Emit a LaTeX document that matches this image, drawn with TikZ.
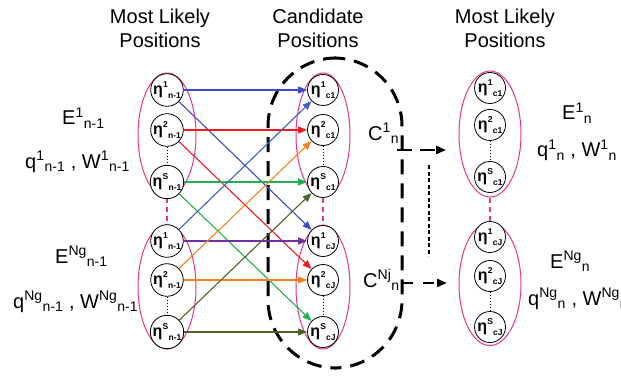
\documentclass[tikz,border=0pt]{standalone}
\usepackage{fontspec}
\setmainfont{Liberation Sans}
\usetikzlibrary{shapes.geometric,arrows.meta}
\definecolor{pinkc}{RGB}{233,52,140}
\definecolor{cblue}{RGB}{63,72,204}
\definecolor{cblueb}{RGB}{64,96,192}
\definecolor{cred}{RGB}{237,28,36}
\definecolor{cgreen}{RGB}{34,177,76}
\definecolor{cpurple}{RGB}{112,48,160}
\definecolor{corange}{RGB}{245,130,32}
\definecolor{colive}{RGB}{79,98,40}
\newcommand\etl[2]{η\kern0.3pt\raisebox{0.42em}{\fontsize{8.5}{8.5}\selectfont#1}\kern0.2pt\raisebox{-0.28em}{\fontsize{8.5}{8.5}\selectfont#2}}
\newcommand\lab[3]{#1\textsuperscript{#2}\textsubscript{#3}}
\begin{document}
\begin{tikzpicture}[x=1pt,y=-1pt,
  etanode/.style={circle, draw, line width=0.8pt, minimum size=31pt, inner sep=0pt, fill=white,
    font=\fontsize{16}{16}\selectfont\bfseries},
  grp/.style={ellipse, draw=pinkc, line width=1pt, inner sep=0pt},
  pinkdash/.style={draw=pinkc, line width=2.5pt, dash pattern=on 5pt off 4pt},
  thindot/.style={draw, line width=0.8pt, dash pattern=on 1.5pt off 1.5pt},
  arr/.style={-{Triangle[length=9pt,width=7pt]}, line width=1.1pt},
  head/.style={font=\fontsize{20}{24}\selectfont, align=center, inner sep=0pt},
  lbl/.style={font=\fontsize{20}{24}\selectfont, anchor=base west, inner sep=0pt},
  bigdash/.style={draw, line width=3pt, dash pattern=on 15pt off 9pt},
  dasharr/.style={-{Triangle[length=10pt,width=8pt]}, line width=2.5pt}
]
\useasboundingbox (0,0) rectangle (621,377);

% headings
\node[head] (h1) at (160,28) {Most Likely\\Positions};
\node[head] (h2) at (318,28) {Candidate\\Positions};
\node[head] (h3) at (505,28) {Most Likely\\Positions};

% big dashed candidate region
\node[bigdash, rounded corners=68pt, minimum width=134pt, minimum height=310pt] (cand) at (335,213) {};

% ellipses
\node[grp, minimum width=58pt, minimum height=124pt] (L1) at (167,135) {};
\node[grp, minimum width=58pt, minimum height=124pt] (L2) at (167,287) {};
\node[grp, minimum width=54pt, minimum height=124pt] (M1) at (323,135) {};
\node[grp, minimum width=54pt, minimum height=124pt] (M2) at (323,287) {};
\node[grp, minimum width=62pt, minimum height=126pt] (R1) at (490,134) {};
\node[grp, minimum width=62pt, minimum height=123pt] (R2) at (490,284) {};

\draw[pinkdash] (L1.south) -- (L2.north);
\draw[pinkdash] (M1.south) -- (M2.north);
\draw[pinkdash] (R1.south) -- (R2.north);

% circles
\node[etanode] (a1) at (167,90) {\etl{1}{n-1}};
\node[etanode] (a2) at (167,130) {\etl{2}{n-1}};
\node[etanode] (aS) at (167,182) {\etl{S}{n-1}};
\node[etanode] (b1) at (167,241) {\etl{1}{n-1}};
\node[etanode] (b2) at (167,280) {\etl{2}{n-1}};
\node[etanode] (bS) at (167,332) {\etl{S}{n-1}};
\node[etanode] (c1) at (323,90) {\etl{1}{c1}};
\node[etanode] (c2) at (323,130) {\etl{2}{c1}};
\node[etanode] (cS) at (323,182) {\etl{S}{c1}};
\node[etanode] (d1) at (323,241) {\etl{1}{cJ}};
\node[etanode] (d2) at (323,280) {\etl{2}{cJ}};
\node[etanode] (dS) at (323,332) {\etl{S}{cJ}};
\node[etanode] (e1) at (490,88) {\etl{1}{c1}};
\node[etanode] (e2) at (490,125) {\etl{2}{c1}};
\node[etanode] (eS) at (490,177) {\etl{S}{c1}};
\node[etanode] (f1) at (490,237) {\etl{1}{cJ}};
\node[etanode] (f2) at (490,276) {\etl{2}{cJ}};
\node[etanode] (fS) at (490,327) {\etl{S}{cJ}};

\draw[thindot] (a2) -- (aS);
\draw[thindot] (b2) -- (bS);
\draw[thindot] (c2) -- (cS);
\draw[thindot] (d2) -- (dS);
\draw[thindot] (e2) -- (eS);
\draw[thindot] (f2) -- (fS);

% connectors
\draw[arr, cblue] (a1) -- (c1);
\draw[arr, cblue] (a1) -- (d1);
\draw[arr, cred] (a2) -- (c2);
\draw[arr, cred] (a2) -- (d2);
\draw[arr, cgreen] (aS) -- (cS);
\draw[arr, cgreen] (aS) -- (dS);
\draw[arr, cpurple] (b1) -- (d1);
\draw[arr, cblueb] (b1) -- (c1);
\draw[arr, corange] (b2) -- (d2);
\draw[arr, corange] (b2) -- (c2);
\draw[arr, colive] (bS) -- (dS);
\draw[arr, colive] (bS) -- (cS);

% right-side dashed arrows
\coordinate (k1s) at (397,150);
\coordinate (k1e) at (446,150);
\coordinate (k2s) at (402,283);
\coordinate (k2e) at (447,283);
\draw[dasharr, dash pattern=on 15pt off 8pt] (k1s) -- (k1e);
\draw[dasharr, dash pattern=on 11pt off 10pt] (k2s) -- (k2e);
\coordinate (v1) at (429,165);
\coordinate (v2) at (429,256);
\draw[line width=2.5pt, dash pattern=on 4pt off 2.5pt] (v1) -- (v2);

% labels
\node[lbl] (t1) at (62,125) {\lab{E}{1}{n-1}};
\node[lbl] (t2) at (25,168) {\lab{q}{1}{n-1} , \lab{W}{1}{n-1}};
\node[lbl] (t3) at (55,263) {\lab{E}{Ng}{n-1}};
\node[lbl] (t4) at (13,308) {\lab{q}{Ng}{n-1} , \lab{W}{Ng}{n-1}};
\node[lbl] (t5) at (562,120) {\lab{E}{1}{n}};
\node[lbl] (t6) at (537,157) {\lab{q}{1}{n} , \lab{W}{1}{n}};
\node[lbl] (t7) at (550,268) {\lab{E}{Ng}{n}};
\node[lbl] (t8) at (528,305) {\lab{q}{Ng}{n} , \lab{W}{Ng}{n}};
\node[lbl] (t9) at (368,140) {\lab{C}{1}{n}};
\node[lbl] (t10) at (363,287) {\lab{C}{Nj}{n}};
\end{tikzpicture}
\end{document}
